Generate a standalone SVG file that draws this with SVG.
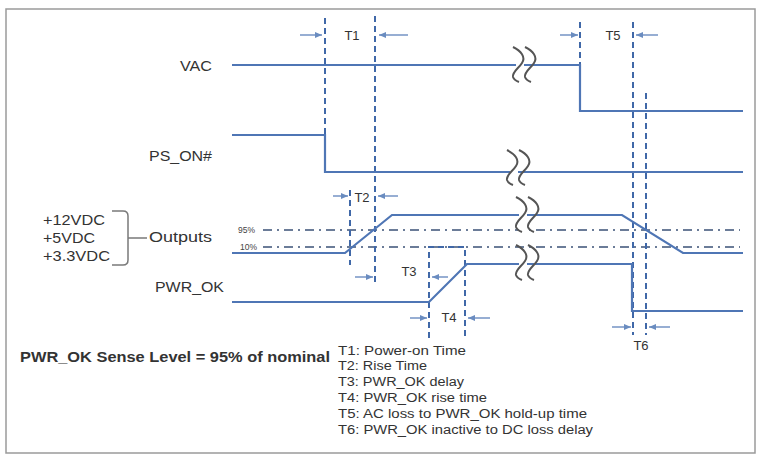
<svg xmlns="http://www.w3.org/2000/svg" width="760" height="461" viewBox="0 0 760 461">
<style>
.sig{fill:none;stroke:#4f76b5;stroke-width:2.2}
.vd{fill:none;stroke:#4068a8;stroke-width:2;stroke-dasharray:6 4}
.dd{fill:none;stroke:#6b7c98;stroke-width:1.8;stroke-dasharray:9 5 2 5}
.ar{fill:none;stroke:#6a8cc0;stroke-width:1.4;marker-end:url(#ah)}
.sq{fill:none;stroke:#555;stroke-width:2}
.lbl{font-family:"Liberation Sans",Arial,sans-serif;font-size:14px;fill:#333}
.tl{font-family:"Liberation Sans",Arial,sans-serif;font-size:13px;fill:#333;text-anchor:middle}
.lg{font-family:"Liberation Sans",Arial,sans-serif;font-size:12.5px;fill:#333}
.pc{font-family:"Liberation Sans",Arial,sans-serif;font-size:8.5px;fill:#444}
</style>
<defs>
<marker id="ah" markerWidth="8" markerHeight="8" refX="7" refY="4" orient="auto" markerUnits="userSpaceOnUse">
<path d="M0,1 L7,4 L0,7 Z" fill="#6a8cc0"/>
</marker>
<g id="sqg">
<path d="M-4,-17 C4,-13 9,-7 5,-1 C2,4 -5,8 -4,13 C-3,16 -1,17 2,18"/>
<path d="M8,-17 C16,-13 21,-7 17,-1 C14,4 7,8 8,13 C9,16 11,17 14,18"/>
</g>
</defs>
<rect x="0" y="0" width="760" height="461" fill="#fff"/>
<rect id="frame" x="6" y="9" width="749" height="444" fill="#fff" stroke="#9a9a9a" stroke-width="1.5"/>

<g id="labels">
<text class="lbl" x="212" y="71" text-anchor="end" textLength="32" lengthAdjust="spacingAndGlyphs">VAC</text>
<text class="lbl" x="212" y="161" text-anchor="end" textLength="63" lengthAdjust="spacingAndGlyphs">PS_ON#</text>
<text class="lbl" x="149" y="242" textLength="63" lengthAdjust="spacingAndGlyphs">Outputs</text>
<text class="lbl" x="43" y="225" textLength="62" lengthAdjust="spacingAndGlyphs">+12VDC</text>
<text class="lbl" x="43" y="243" textLength="52" lengthAdjust="spacingAndGlyphs">+5VDC</text>
<text class="lbl" x="43" y="261" textLength="67" lengthAdjust="spacingAndGlyphs">+3.3VDC</text>
<text class="lbl" x="155" y="292" textLength="69" lengthAdjust="spacingAndGlyphs">PWR_OK</text>
<path d="M112,211 H123 Q128,211 128,216 V260 Q128,265 123,265 H112 M128,238 H147" fill="none" stroke="#7a7a7a" stroke-width="1.5"/>
<text class="pc" x="238" y="233">95%</text>
<text class="pc" x="240" y="250">10%</text>
</g>

<g id="connectors">
<path class="dd" d="M263,230 H740"/>
<path class="dd" d="M263,247 H740"/>
<path class="vd" d="M325,18 V134"/>
<path class="vd" d="M375,16 V285"/>
<path class="vd" d="M350,190 V265"/>
<path class="vd" d="M429,338 V247 H465 V338"/>
<path class="vd" d="M580,22 V65"/>
<path class="vd" d="M633,22 V335"/>
<path class="vd" d="M646,93 V335"/>
<path class="ar" d="M300,35 H322"/>
<path class="ar" d="M408,35 H379"/>
<path class="ar" d="M560,35 H578"/>
<path class="ar" d="M658,35 H636"/>
<path class="ar" d="M333,196 H348"/>
<path class="ar" d="M398,196 H378"/>
<path class="ar" d="M355,277 H373"/>
<path class="ar" d="M448,277 H432"/>
<path class="ar" d="M410,318 H427"/>
<path class="ar" d="M490,318 H468"/>
<path class="ar" d="M612,327 H631"/>
<path class="ar" d="M670,327 H649"/>
</g>

<g id="signals">
<path id="vac" class="sig" d="M232,65 H580 V111 H743"/>
<path id="pson" class="sig" d="M232,135 H325 V172 H743"/>
<path id="outputs" class="sig" d="M232,253 H345 L392,215 H622 L683,253 H743"/>
<path id="pwrok" class="sig" d="M232,302 H429 L467,264 H632 V311 H743"/>
</g>

<g id="breaks" class="sq">
<rect x="516" y="55" width="8" height="20" fill="#fff" stroke="none"/>
<use href="#sqg" x="517" y="64"/>
<rect x="510" y="158" width="8" height="20" fill="#fff" stroke="none"/>
<use href="#sqg" x="511" y="167"/>
<rect x="519" y="205" width="8" height="32" fill="#fff" stroke="none"/>
<use href="#sqg" x="520" y="214"/>
<rect x="519" y="254" width="8" height="20" fill="#fff" stroke="none"/>
<use href="#sqg" x="520" y="262"/>
</g>

<g id="timing-labels">
<text class="tl" x="352" y="40">T1</text>
<text class="tl" x="613" y="40">T5</text>
<text class="tl" x="362" y="202">T2</text>
<text class="tl" x="409" y="276">T3</text>
<text class="tl" x="449" y="322">T4</text>
<text class="tl" x="641" y="350">T6</text>
</g>

<g id="legend">
<text class="lbl" x="20" y="362" font-weight="bold" textLength="310" lengthAdjust="spacingAndGlyphs">PWR_OK Sense Level = 95% of nominal</text>
<text class="lg" x="338" y="355" textLength="128" lengthAdjust="spacingAndGlyphs">T1: Power-on Time</text>
<text class="lg" x="338" y="370" textLength="89" lengthAdjust="spacingAndGlyphs">T2: Rise Time</text>
<text class="lg" x="338" y="386" textLength="126" lengthAdjust="spacingAndGlyphs">T3: PWR_OK delay</text>
<text class="lg" x="338" y="402" textLength="149" lengthAdjust="spacingAndGlyphs">T4: PWR_OK rise time</text>
<text class="lg" x="338" y="418" textLength="249" lengthAdjust="spacingAndGlyphs">T5: AC loss to PWR_OK hold-up time</text>
<text class="lg" x="338" y="434" textLength="255" lengthAdjust="spacingAndGlyphs">T6: PWR_OK inactive to DC loss delay</text>
</g>
</svg>
